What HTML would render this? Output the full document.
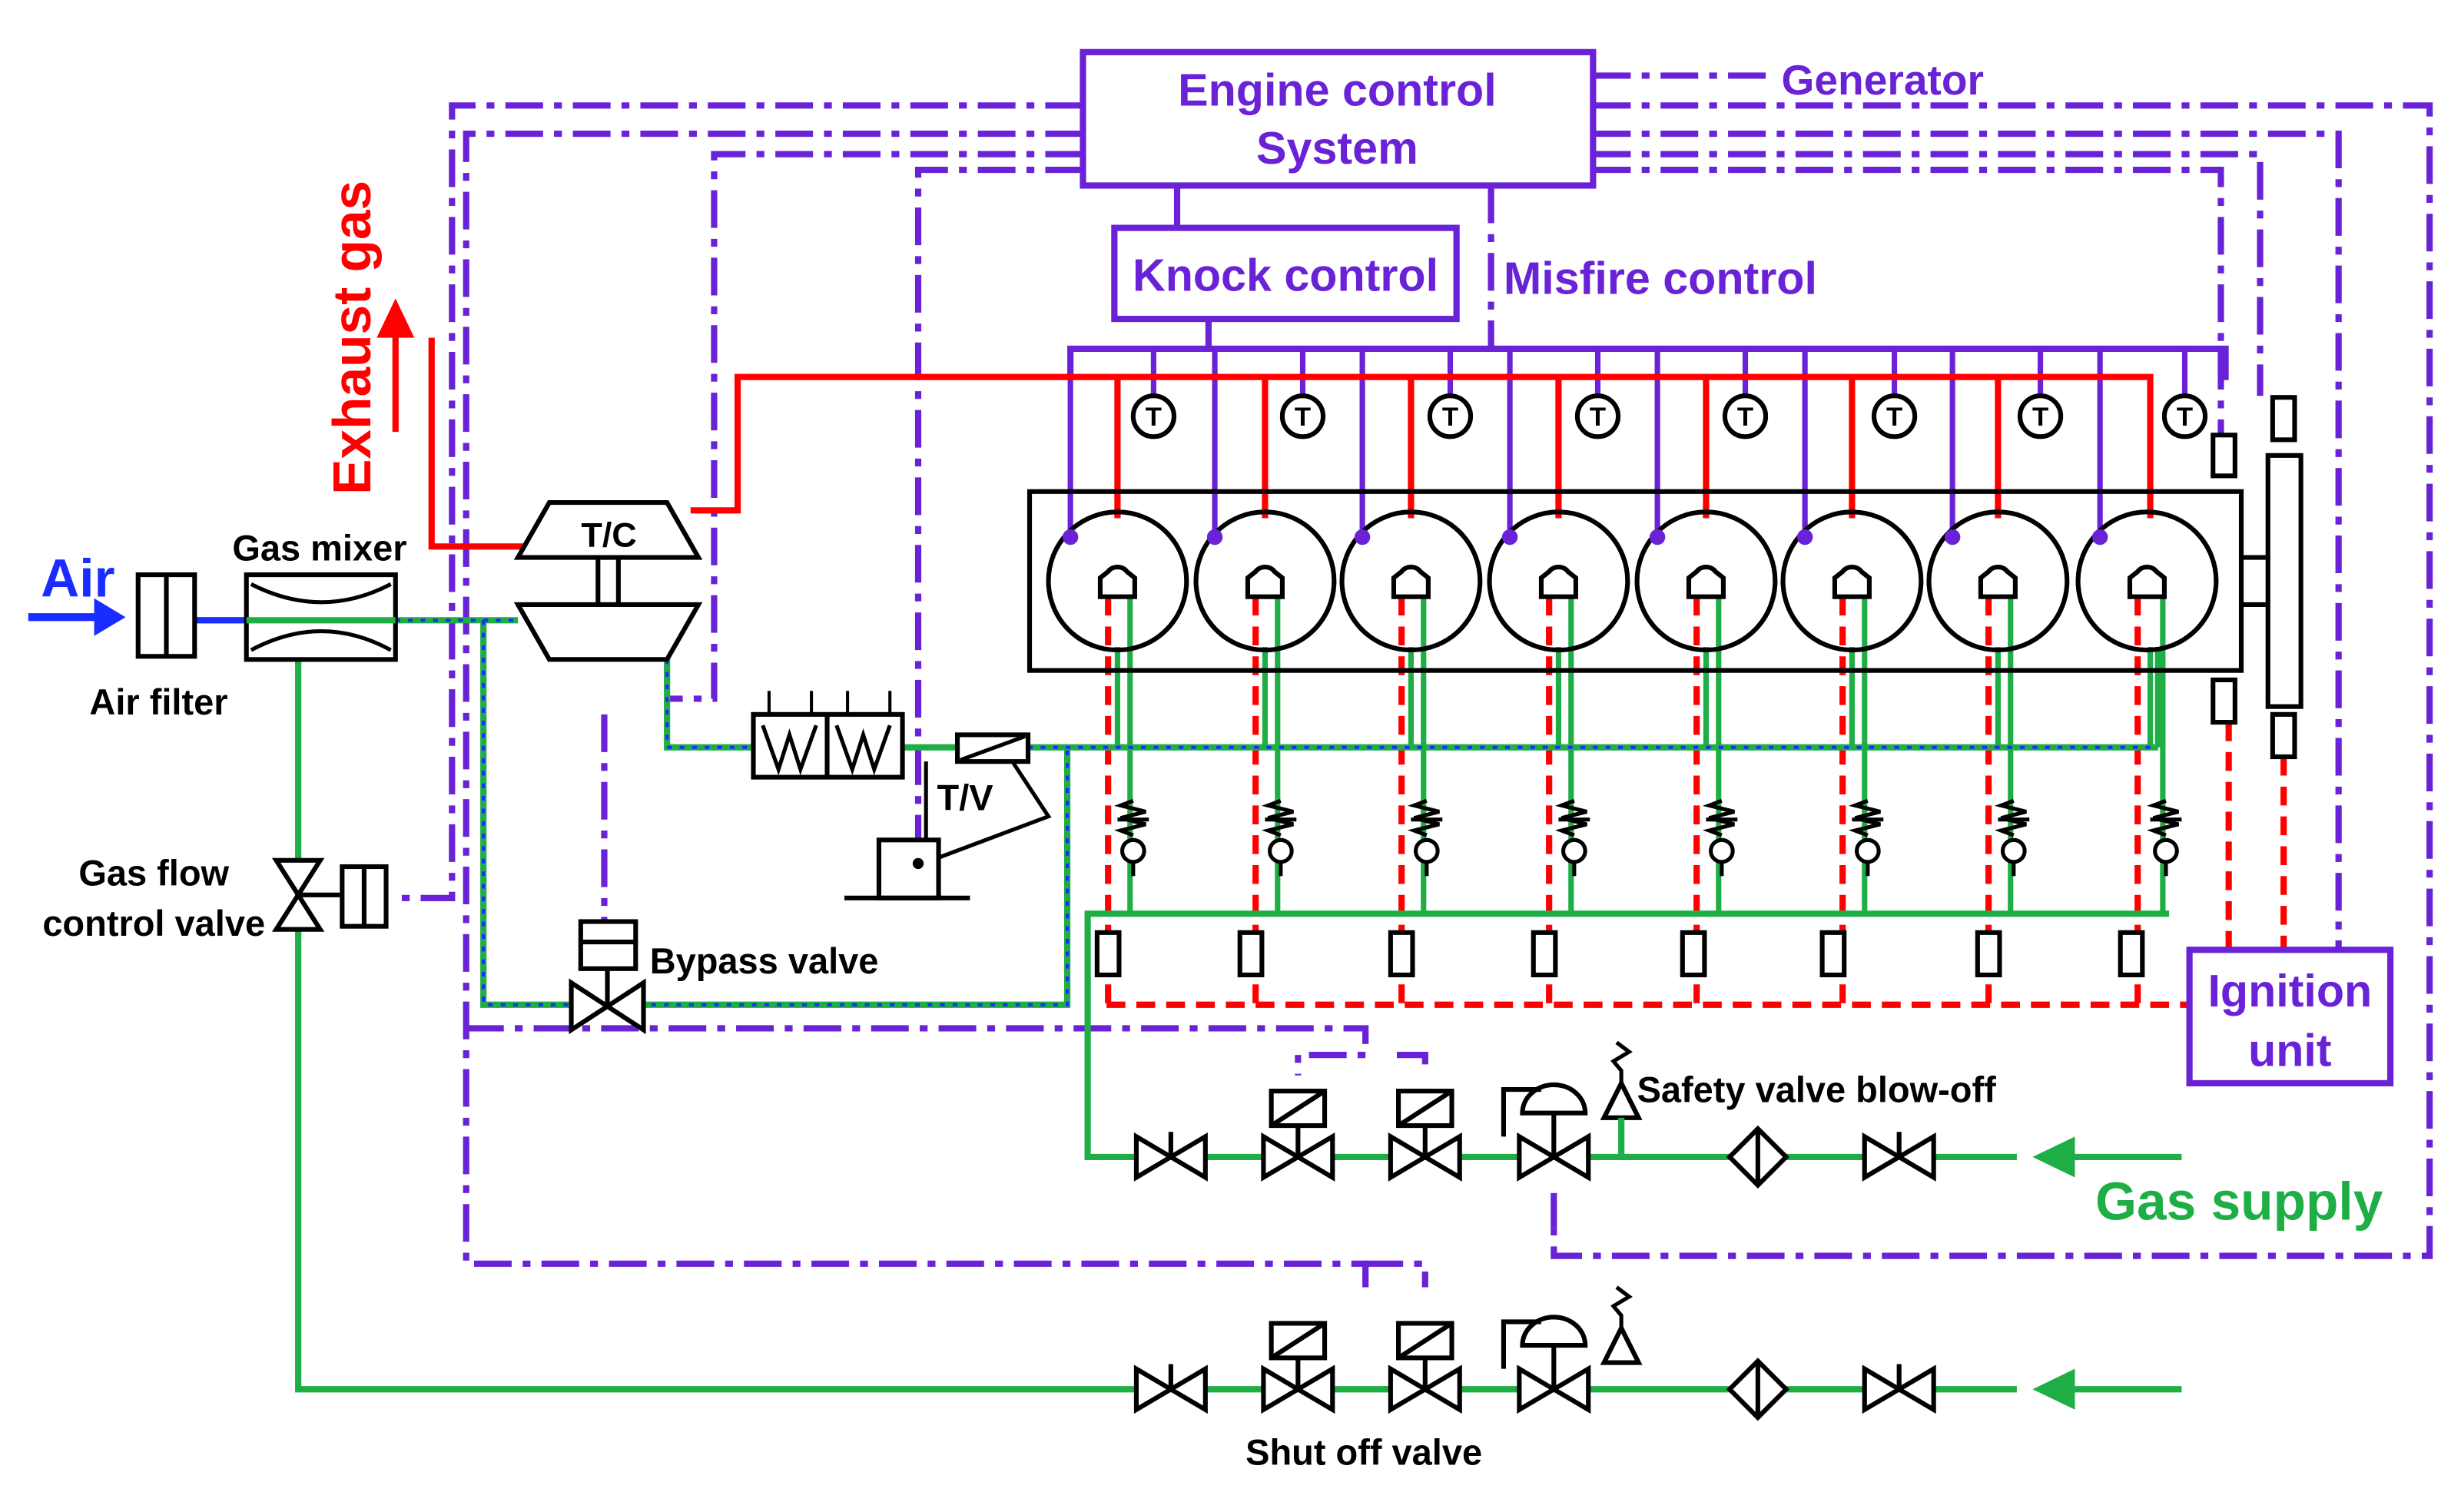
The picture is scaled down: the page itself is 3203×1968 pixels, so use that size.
<!DOCTYPE html>
<html><head><meta charset="utf-8"><style>
html,body{margin:0;padding:0;background:#fff}
svg{display:block}
text{font-family:"Liberation Sans",sans-serif;font-weight:bold}
</style></head><body>
<svg width="3203" height="1968" viewBox="0 0 1568 963" xmlns="http://www.w3.org/2000/svg">
<defs>
<g id="hv"><polygon points="-22,-13 -22,13 0,0" fill="#fff" stroke="#000" stroke-width="3"/><polygon points="22,-13 22,13 0,0" fill="#fff" stroke="#000" stroke-width="3"/><line x1="0" y1="0" x2="0" y2="-16" stroke="#000" stroke-width="3"/></g>
<g id="sv"><polygon points="-22,-13 -22,13 0,0" fill="#fff" stroke="#000" stroke-width="3"/><polygon points="22,-13 22,13 0,0" fill="#fff" stroke="#000" stroke-width="3"/><line x1="0" y1="0" x2="0" y2="-20" stroke="#000" stroke-width="3"/><rect x="-17" y="-42" width="34" height="22" fill="#fff" stroke="#000" stroke-width="3"/><line x1="-17" y1="-20" x2="17" y2="-42" stroke="#000" stroke-width="3"/></g>
<g id="rv"><polygon points="-22,-13 -22,13 0,0" fill="#fff" stroke="#000" stroke-width="3"/><polygon points="22,-13 22,13 0,0" fill="#fff" stroke="#000" stroke-width="3"/><line x1="0" y1="0" x2="0" y2="-28" stroke="#000" stroke-width="3"/><path d="M-20,-28 A20,18 0 0 1 20,-28 Z" fill="#fff" stroke="#000" stroke-width="3"/><polyline points="-8,-43 -32,-43 -32,-13" fill="none" stroke="#000" stroke-width="3"/></g>
<g id="relief"><polygon points="0,-22 -11,0 11,0" fill="#fff" stroke="#000" stroke-width="3"/><polyline points="0,-22 0,-30 -5,-36 5,-42 -3,-48" fill="none" stroke="#000" stroke-width="2.5"/></g>
<g id="filt"><polygon points="0,-18 18,0 0,18 -18,0" fill="#fff" stroke="#000" stroke-width="3"/><line x1="0" y1="-18" x2="0" y2="18" stroke="#000" stroke-width="3"/></g>
<g id="gv"><polyline points="0,-12 -8,-9 8,-5 -8,-1 8,3 -8,7 0,10" fill="none" stroke="#000" stroke-width="2.5"/><line x1="-10" y1="0" x2="10" y2="0" stroke="#000" stroke-width="2.5"/><circle cx="0" cy="20" r="7" fill="#fff" stroke="#000" stroke-width="2.5"/><line x1="0" y1="27" x2="0" y2="36" stroke="#000" stroke-width="2.5"/></g>
</defs>

<g fill="none" stroke="#6a22d6" stroke-width="4" stroke-dasharray="24 7 5 7">
<polyline points="690,67 288,67 288,572 250,572"/>
<polyline points="1015,67 1548,67 1548,800 990,800 990,780"/>
<polyline points="690,85 297,85 297,805 870,805 870,820"/>
<polyline points="1015,85 1490,85 1490,605"/>
<polyline points="690,98 455,98 455,445 425,445"/>
<polyline points="1015,98 1440,98 1440,252"/>
<polyline points="690,108 585,108 585,535"/>
<polyline points="1015,108 1415,108 1415,278"/>
<polyline points="1015,48 1130,48"/>
<polyline points="385,455 385,587"/>
<polyline points="297,655 870,655 870,672 827,672 827,685"/>
<polyline points="890,672 908,672 908,685"/>
<polyline points="950,118 950,222"/>
<polyline points="870,805 908,805 908,820"/>
</g>
<g fill="none" stroke="#6a22d6" stroke-width="4">
<line x1="750" y1="118" x2="750" y2="145"/>
<line x1="770" y1="203" x2="770" y2="222"/>
<polyline points="682,242 682,222 1418,222 1418,242"/>
<line x1="990" y1="760" x2="990" y2="782"/>
</g>
<g stroke="#6a22d6" stroke-width="3.5">
<line x1="735" y1="222" x2="735" y2="252"/><line x1="830" y1="222" x2="830" y2="252"/><line x1="924" y1="222" x2="924" y2="252"/><line x1="1018" y1="222" x2="1018" y2="252"/><line x1="1112" y1="222" x2="1112" y2="252"/><line x1="1207" y1="222" x2="1207" y2="252"/><line x1="1300" y1="222" x2="1300" y2="252"/><line x1="1392" y1="222" x2="1392" y2="252"/>
<line x1="682" y1="222" x2="682" y2="342"/><line x1="774" y1="222" x2="774" y2="342"/><line x1="868" y1="222" x2="868" y2="342"/><line x1="962" y1="222" x2="962" y2="342"/><line x1="1056" y1="222" x2="1056" y2="342"/><line x1="1150" y1="222" x2="1150" y2="342"/><line x1="1244" y1="222" x2="1244" y2="342"/><line x1="1338" y1="222" x2="1338" y2="342"/>
</g>

<rect x="690" y="33" width="325" height="85" fill="#fff" stroke="#6a22d6" stroke-width="4"/>
<text x="852" y="67" font-size="29" fill="#6a22d6" text-anchor="middle">Engine control</text>
<text x="852" y="104" font-size="29" fill="#6a22d6" text-anchor="middle">System</text>
<text x="1135" y="60" font-size="27" fill="#6a22d6">Generator</text>
<rect x="710" y="145" width="218" height="58" fill="#fff" stroke="#6a22d6" stroke-width="4"/>
<text x="819" y="185" font-size="29" fill="#6a22d6" text-anchor="middle">Knock control</text>
<text x="958" y="187" font-size="29" fill="#6a22d6">Misfire control</text>

<g fill="none" stroke="#f00" stroke-width="4">
<polyline points="1370,330 1370,240 470,240 470,325 440,325"/>
<polyline points="335,348 275,348 275,215"/>
<line x1="712" y1="240" x2="712" y2="330"/><line x1="806" y1="240" x2="806" y2="330"/><line x1="899" y1="240" x2="899" y2="330"/><line x1="993" y1="240" x2="993" y2="330"/><line x1="1087" y1="240" x2="1087" y2="330"/><line x1="1180" y1="240" x2="1180" y2="330"/><line x1="1273" y1="240" x2="1273" y2="330"/>
<line x1="252" y1="275" x2="252" y2="210"/>
</g>
<polygon points="252,190 240,215 264,215" fill="#f00"/>
<text transform="translate(236,315) rotate(-90)" font-size="34" fill="#f00">Exhaust gas</text>

<g fill="none" stroke="#f00" stroke-width="4" stroke-dasharray="12 7">
<line x1="705" y1="640" x2="1395" y2="640"/>
<line x1="1420" y1="460" x2="1420" y2="605"/>
<line x1="1455" y1="482" x2="1455" y2="605"/>
<line x1="706" y1="380" x2="706" y2="640"/><line x1="800" y1="380" x2="800" y2="640"/><line x1="893" y1="380" x2="893" y2="640"/><line x1="987" y1="380" x2="987" y2="640"/><line x1="1081" y1="380" x2="1081" y2="640"/><line x1="1174" y1="380" x2="1174" y2="640"/><line x1="1267" y1="380" x2="1267" y2="640"/><line x1="1362" y1="380" x2="1362" y2="640"/>
</g>
<rect x="1395" y="605" width="128" height="85" fill="#fff" stroke="#6a22d6" stroke-width="4"/>
<text x="1459" y="641" font-size="29" fill="#6a22d6" text-anchor="middle">Ignition</text>
<text x="1459" y="679" font-size="29" fill="#6a22d6" text-anchor="middle">unit</text>

<g fill="none" stroke="#1fae45" stroke-width="4">
<polyline points="124,395 330,395"/>
<polyline points="190,395 190,885 1285,885"/>
<polyline points="308,395 308,640 680,640 680,476"/>
<polyline points="425,420 425,476 480,476"/>
<line x1="575" y1="476" x2="610" y2="476"/>
<line x1="655" y1="476" x2="1375" y2="476"/>
<polyline points="1382,582 693,582 693,737 1285,737"/>
<line x1="1375" y1="476" x2="1375" y2="412"/>
</g>
<g stroke="#1fae45" stroke-width="3.5">
<line x1="712" y1="412" x2="712" y2="476"/><line x1="720" y1="380" x2="720" y2="582"/><line x1="806" y1="412" x2="806" y2="476"/><line x1="814" y1="380" x2="814" y2="582"/><line x1="899" y1="412" x2="899" y2="476"/><line x1="907" y1="380" x2="907" y2="582"/><line x1="993" y1="412" x2="993" y2="476"/><line x1="1001" y1="380" x2="1001" y2="582"/><line x1="1087" y1="412" x2="1087" y2="476"/><line x1="1095" y1="380" x2="1095" y2="582"/><line x1="1180" y1="412" x2="1180" y2="476"/><line x1="1188" y1="380" x2="1188" y2="582"/><line x1="1273" y1="412" x2="1273" y2="476"/><line x1="1281" y1="380" x2="1281" y2="582"/><line x1="1370" y1="412" x2="1370" y2="476"/><line x1="1378" y1="380" x2="1378" y2="582"/>
</g>
<g fill="none" stroke="#1a2cff" stroke-width="2" stroke-dasharray="3 5">
<polyline points="124,395 330,395"/>
<polyline points="308,395 308,640 680,640 680,476"/>
<polyline points="425,420 425,476 480,476"/>
<line x1="655" y1="476" x2="1375" y2="476"/>
</g>
<line x1="124" y1="395" x2="158" y2="395" stroke="#1a2cff" stroke-width="4"/>

<line x1="18" y1="393" x2="62" y2="393" stroke="#1a2cff" stroke-width="5"/>
<polygon points="80,393 60,381 60,405" fill="#1a2cff"/>
<text x="26" y="380" font-size="34" fill="#1a2cff">Air</text>
<rect x="88" y="366" width="36" height="52" fill="#fff" stroke="#000" stroke-width="3"/>
<line x1="106" y1="366" x2="106" y2="418" stroke="#000" stroke-width="3"/>
<text x="57" y="455" font-size="23" fill="#000">Air filter</text>
<rect x="157" y="366" width="95" height="54" fill="#fff" stroke="#000" stroke-width="3"/>
<path d="M160,372 Q205,395 249,372 M160,414 Q205,390 249,414" fill="none" stroke="#000" stroke-width="2.5"/>
<line x1="157" y1="395" x2="252" y2="395" stroke="#1fae45" stroke-width="4"/>
<text x="148" y="357" font-size="23" fill="#000">Gas mixer</text>

<polygon points="176,548 204,548 190,570" fill="#fff" stroke="#000" stroke-width="3"/>
<polygon points="176,592 204,592 190,570" fill="#fff" stroke="#000" stroke-width="3"/>
<line x1="190" y1="570" x2="218" y2="570" stroke="#000" stroke-width="3"/>
<rect x="218" y="552" width="28" height="38" fill="#fff" stroke="#000" stroke-width="3"/>
<line x1="232" y1="552" x2="232" y2="590" stroke="#000" stroke-width="3"/>
<text x="98" y="564" font-size="23" fill="#000" text-anchor="middle">Gas flow</text>
<text x="98" y="596" font-size="23" fill="#000" text-anchor="middle">control valve</text>

<polygon points="350,320 425,320 445,355 330,355" fill="#fff" stroke="#000" stroke-width="3"/>
<polygon points="330,385 445,385 425,420 350,420" fill="#fff" stroke="#000" stroke-width="3"/>
<rect x="381" y="355" width="13" height="30" fill="#fff" stroke="#000" stroke-width="3"/>
<text x="388" y="348" font-size="22" fill="#000" text-anchor="middle">T/C</text>

<rect x="480" y="455" width="95" height="40" fill="#fff" stroke="#000" stroke-width="3"/>
<line x1="527" y1="455" x2="527" y2="495" stroke="#000" stroke-width="3"/>
<polyline points="486,462 496,490 503,468 510,490 520,462" fill="none" stroke="#000" stroke-width="2.5"/>
<polyline points="533,462 543,490 550,468 557,490 567,462" fill="none" stroke="#000" stroke-width="2.5"/>
<path d="M490,455 V440 M517,455 V440 M540,455 V440 M567,455 V440" stroke="#000" stroke-width="2"/>

<rect x="610" y="468" width="45" height="17" fill="#fff" stroke="#000" stroke-width="3"/>
<line x1="612" y1="484" x2="653" y2="469" stroke="#000" stroke-width="2.5"/>
<text x="597" y="516" font-size="23" fill="#000">T/V</text>
<polyline points="645,485 668,520 588,550" fill="none" stroke="#000" stroke-width="2.5"/>
<line x1="590" y1="485" x2="590" y2="535" stroke="#000" stroke-width="2.5"/>
<rect x="560" y="535" width="38" height="37" fill="#fff" stroke="#000" stroke-width="3"/>
<circle cx="585" cy="550" r="3.5" fill="#000"/>
<line x1="538" y1="572" x2="618" y2="572" stroke="#000" stroke-width="3"/>

<rect x="370" y="587" width="35" height="30" fill="#fff" stroke="#000" stroke-width="3"/>
<line x1="370" y1="600" x2="405" y2="600" stroke="#000" stroke-width="3"/>
<line x1="387" y1="617" x2="387" y2="640" stroke="#000" stroke-width="3"/>
<polygon points="364,626 364,656 387,641" fill="#fff" stroke="#000" stroke-width="3"/>
<polygon points="410,626 410,656 387,641" fill="#fff" stroke="#000" stroke-width="3"/>
<text x="414" y="620" font-size="23" fill="#000">Bypass valve</text>

<rect x="656" y="313" width="772" height="114" fill="none" stroke="#000" stroke-width="3"/>
<g fill="none" stroke="#000" stroke-width="3">
<circle cx="712" cy="370" r="44"/><circle cx="806" cy="370" r="44"/><circle cx="899" cy="370" r="44"/><circle cx="993" cy="370" r="44"/><circle cx="1087" cy="370" r="44"/><circle cx="1180" cy="370" r="44"/><circle cx="1273" cy="370" r="44"/><circle cx="1368" cy="370" r="44"/>
</g>
<g fill="#fff" stroke="#000" stroke-width="3">
<path d="M701,380 v-12 l5,-4 a7,6 0 0 1 12,0 l5,4 v12 z"/><path d="M795,380 v-12 l5,-4 a7,6 0 0 1 12,0 l5,4 v12 z"/><path d="M888,380 v-12 l5,-4 a7,6 0 0 1 12,0 l5,4 v12 z"/><path d="M982,380 v-12 l5,-4 a7,6 0 0 1 12,0 l5,4 v12 z"/><path d="M1076,380 v-12 l5,-4 a7,6 0 0 1 12,0 l5,4 v12 z"/><path d="M1169,380 v-12 l5,-4 a7,6 0 0 1 12,0 l5,4 v12 z"/><path d="M1262,380 v-12 l5,-4 a7,6 0 0 1 12,0 l5,4 v12 z"/><path d="M1357,380 v-12 l5,-4 a7,6 0 0 1 12,0 l5,4 v12 z"/>
</g>
<g fill="#6a22d6"><circle cx="682" cy="342" r="5"/><circle cx="774" cy="342" r="5"/><circle cx="868" cy="342" r="5"/><circle cx="962" cy="342" r="5"/><circle cx="1056" cy="342" r="5"/><circle cx="1150" cy="342" r="5"/><circle cx="1244" cy="342" r="5"/><circle cx="1338" cy="342" r="5"/></g>

<g fill="#fff" stroke="#000" stroke-width="3">
<circle cx="735" cy="265" r="13"/><circle cx="830" cy="265" r="13"/><circle cx="924" cy="265" r="13"/><circle cx="1018" cy="265" r="13"/><circle cx="1112" cy="265" r="13"/><circle cx="1207" cy="265" r="13"/><circle cx="1300" cy="265" r="13"/><circle cx="1392" cy="265" r="13"/>
</g>
<g font-size="17" text-anchor="middle" fill="#000">
<text x="735" y="271">T</text><text x="830" y="271">T</text><text x="924" y="271">T</text><text x="1018" y="271">T</text><text x="1112" y="271">T</text><text x="1207" y="271">T</text><text x="1300" y="271">T</text><text x="1392" y="271">T</text>
</g>

<line x1="1428" y1="355" x2="1445" y2="355" stroke="#000" stroke-width="3"/>
<line x1="1428" y1="385" x2="1445" y2="385" stroke="#000" stroke-width="3"/>
<g fill="#fff" stroke="#000" stroke-width="3">
<rect x="1445" y="290" width="21" height="160"/>
<rect x="1448" y="253" width="14" height="27"/><rect x="1448" y="455" width="14" height="27"/>
<rect x="1410" y="277" width="14" height="26"/><rect x="1410" y="433" width="14" height="27"/>
</g>

<use href="#gv" x="722" y="522"/><use href="#gv" x="816" y="522"/><use href="#gv" x="909" y="522"/><use href="#gv" x="1003" y="522"/><use href="#gv" x="1097" y="522"/><use href="#gv" x="1190" y="522"/><use href="#gv" x="1283" y="522"/><use href="#gv" x="1380" y="522"/>

<g fill="#fff" stroke="#000" stroke-width="3">
<rect x="699" y="594" width="14" height="27"/><rect x="790" y="594" width="14" height="27"/><rect x="886" y="594" width="14" height="27"/><rect x="977" y="594" width="14" height="27"/><rect x="1072" y="594" width="14" height="27"/><rect x="1161" y="594" width="14" height="27"/><rect x="1260" y="594" width="14" height="27"/><rect x="1351" y="594" width="14" height="27"/>
</g>

<use href="#hv" x="746" y="737"/><use href="#sv" x="827" y="737"/><use href="#sv" x="908" y="737"/><use href="#rv" x="990" y="737"/>
<use href="#relief" x="1033" y="712"/><line x1="1033" y1="712" x2="1033" y2="737" stroke="#1fae45" stroke-width="4"/>
<use href="#filt" x="1120" y="737"/><use href="#hv" x="1210" y="737"/>
<line x1="1318" y1="737" x2="1390" y2="737" stroke="#1fae45" stroke-width="4"/>
<polygon points="1295,737 1322,724 1322,750" fill="#1fae45"/>
<text x="1043" y="702" font-size="23" fill="#000">Safety valve blow-off</text>
<text x="1335" y="777" font-size="34" fill="#1fae45">Gas supply</text>

<use href="#hv" x="746" y="885"/><use href="#sv" x="827" y="885"/><use href="#sv" x="908" y="885"/><use href="#rv" x="990" y="885"/>
<use href="#relief" x="1033" y="868"/>
<use href="#filt" x="1120" y="885"/><use href="#hv" x="1210" y="885"/>
<line x1="1318" y1="885" x2="1390" y2="885" stroke="#1fae45" stroke-width="4"/>
<polygon points="1295,885 1322,872 1322,898" fill="#1fae45"/>
<text x="869" y="933" font-size="23" fill="#000" text-anchor="middle">Shut off valve</text>
</svg>
</body></html>
